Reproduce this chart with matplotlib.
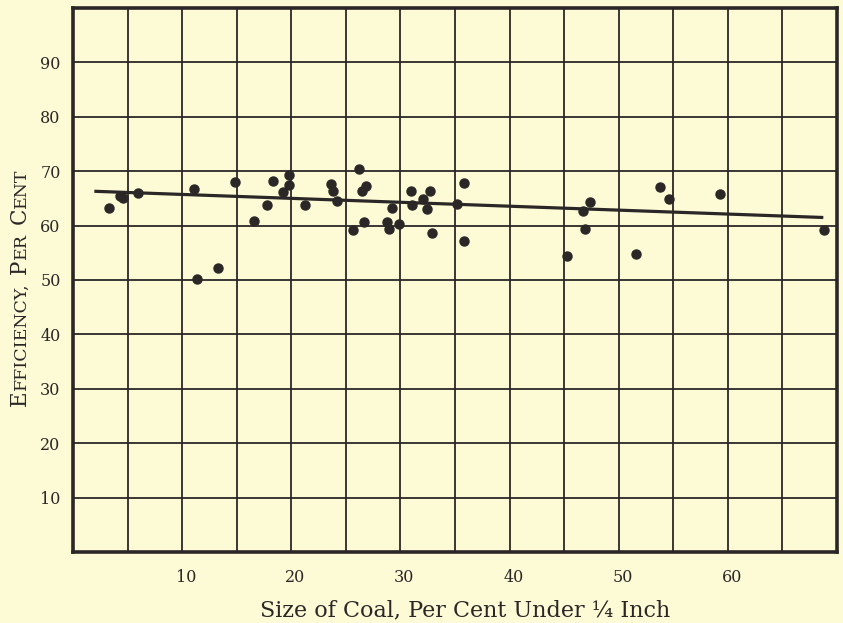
import matplotlib
matplotlib.use("Agg")
import matplotlib.pyplot as plt
import matplotlib.transforms as mtransforms
import numpy as np

# readings
coal_size = [3.3, 4.3, 4.6, 6.0, 11.1, 14.8, 11.35, 13.3, 18.3, 19.75,
             19.8, 19.2, 17.8, 16.6, 21.3, 23.6, 23.8, 24.2, 26.2, 26.5,
             26.8, 26.65, 25.7, 28.8, 28.95, 29.9, 29.2, 31.0, 31.1, 32.7,
             32.1, 32.4, 32.9, 35.2, 35.8, 35.8, 45.3, 46.9, 46.7, 47.4,
             51.6, 53.8, 54.6, 59.3, 68.8]
efficiency = [63.3, 65.5, 65.0, 66.0, 66.7, 68.1, 50.1, 52.2, 68.2, 69.3,
              67.5, 66.2, 63.7, 60.9, 63.8, 67.7, 66.4, 64.5, 70.4, 66.4,
              67.2, 60.7, 59.2, 60.7, 59.3, 60.3, 63.2, 66.3, 63.7, 66.3,
              64.8, 63.1, 58.7, 63.9, 67.9, 57.1, 54.4, 59.3, 62.7, 64.3,
              54.8, 67.1, 64.9, 65.9, 59.2]
trend_x = [2.1, 68.6]
trend_y = [66.3, 61.5]

x_ticks = [10, 20, 30, 40, 50, 60]
y_ticks = [10, 20, 30, 40, 50, 60, 70, 80, 90]

paper = '#fcfbd6'
ink = '#2b2727'
serif = 'DejaVu Serif'

W, H = 843, 623
fig = plt.figure(figsize=(W / 100, H / 100), dpi=100, facecolor=paper)
ax = fig.add_axes([73 / W, 71 / H, 764 / W, 544 / H], facecolor=paper)

ax.set_xlim(0, 70)
ax.set_ylim(0, 100)
ax.set_xticks(x_ticks)
ax.set_xticks(np.arange(5, 70, 10), minor=True)
ax.set_yticks(y_ticks)
ax.grid(True, which='both', color=ink, linewidth=1.3)
ax.set_axisbelow(True)
ax.tick_params(which='both', length=0)
ax.tick_params(axis='x', pad=12, labelsize=11.5, labelcolor=ink)
ax.tick_params(axis='y', pad=9, labelsize=11.5, labelcolor=ink)
# printed numbers sit a little right of their rules
nudge = mtransforms.ScaledTranslation(4 / 100, 0, fig.dpi_scale_trans)
for lab in ax.get_xticklabels():
    lab.set_transform(lab.get_transform() + nudge)
for lab in ax.get_xticklabels() + ax.get_yticklabels():
    lab.set_family(serif)
for sp in ax.spines.values():
    sp.set_color(ink)
    sp.set_linewidth(2.6)

ax.plot(trend_x, trend_y, color=ink, linewidth=2.3, zorder=3)
ax.plot(coal_size, efficiency, 'o', color=ink, markersize=6.5, zorder=4)

fig.text(465 / W, 7 / H, 'Size of Coal, Per Cent Under \u00bc Inch',
         ha='center', va='baseline', fontsize=16, family=serif, color=ink)

# y label set in small caps, built piece by piece
parts = [('E', True), ('FFICIENCY,', False), (None, None), ('P', True),
         ('ER', False), (None, None), ('C', True), ('ENT', False)]
big, small = 15.5, 12.5
gap = 9
texts = []
for s, is_big in parts:
    if s is None:
        texts.append(None)
        continue
    t = fig.text(0, 0, s, rotation=90, rotation_mode='anchor', ha='left',
                 va='baseline', fontsize=big if is_big else small,
                 family=serif, color=ink)
    texts.append(t)
fig.canvas.draw()
r = fig.canvas.get_renderer()
lengths = [gap if t is None else t.get_window_extent(r).height for t in texts]
y_pos = 336 - sum(lengths) / 2
for t, L in zip(texts, lengths):
    if t is not None:
        t.set_position((26 / W, y_pos / H))
    y_pos += L

fig.savefig('out.png', dpi=100, facecolor=paper)
